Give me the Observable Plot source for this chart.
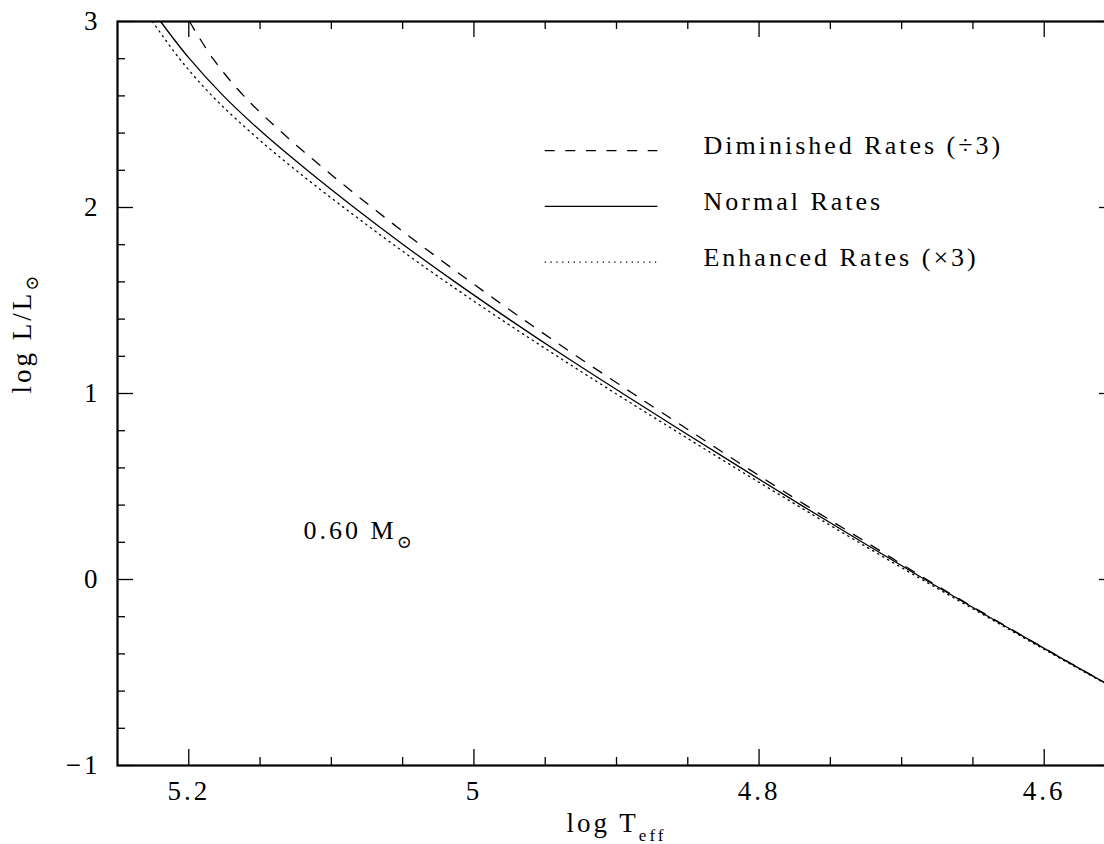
<!DOCTYPE html>
<html><head><meta charset="utf-8">
<script src="https://cdn.jsdelivr.net/npm/d3@7"></script>
<script src="https://cdn.jsdelivr.net/npm/@observablehq/plot@0.6"></script>
<style>
html,body{margin:0;padding:0;overflow:hidden;background:#fff;}
#chart svg text, #chart svg tspan { font-family: "Liberation Serif", "DejaVu Serif", serif !important; }
</style>
</head><body><div id="chart"></div>
<script>
// ---- data: log L/L_sun levels and the log Teff of each track there ----
const lumLevels = [3.0, 2.8, 2.6, 2.4, 2.2, 2.0, 1.8, 1.6, 1.4, 1.2, 1.0, 0.8, 0.6, 0.4, 0.2, 0.0, -0.2, -0.4, -0.58];

const teffNormal     = [5.2198, 5.1995, 5.1757, 5.1479, 5.1169, 5.0840, 5.0495, 5.0133, 4.9755, 4.9363, 4.8957, 4.8544, 4.8127, 4.7705, 4.7275, 4.6837, 4.6389, 4.5933, 4.5517];
const teffDiminished = [5.1995, 5.1830, 5.1614, 5.1342, 5.1038, 5.0714, 5.0376, 5.0023, 4.9657, 4.9278, 4.8885, 4.8487, 4.8085, 4.7673, 4.7247, 4.6824, 4.6383, 4.5930, 4.5517];
const teffEnhanced   = [5.2255, 5.2065, 5.1836, 5.1559, 5.1248, 5.0913, 5.0563, 5.0197, 4.9813, 4.9415, 4.9006, 4.8588, 4.8166, 4.7736, 4.7302, 4.6858, 4.6403, 4.5944, 4.5524];

const seriesLabels = ["Diminished Rates (÷3)", "Normal Rates", "Enhanced Rates (×3)"];
const massLabel = "0.60 M⊙";

const xMajorTicks = [5.2, 5.0, 4.8, 4.6];
const xMinorTicks = [5.15, 5.1, 5.05, 4.95, 4.9, 4.85, 4.75, 4.7, 4.65, 4.55];
const yMajorTicks = [-1, 0, 1, 2, 3];
const yMinorTicks = [-0.8, -0.6, -0.4, -0.2, 0.2, 0.4, 0.6, 0.8, 1.2, 1.4, 1.6, 1.8, 2.2, 2.4, 2.6, 2.8];

// ---- layout constants ----
const W = 1115, H = 844, ML = 117, MR = 0, MT = 21, MB = 79;
const plotW = W - ML - MR, plotH = H - MT - MB;
const majorLen = 16, minorLen = 8;
const legendX1 = 4.95, legendX2 = 4.871, legendTextX = 4.839, legendTopY = 2.306, legendStep = 0.3;
const massX = 5.1195, massY = 0.263;

const zip = (xs, ys) => xs.map((x, i) => ({x, y: ys[i]}));
const dimData = zip(teffDiminished, lumLevels);
const normData = zip(teffNormal, lumLevels);
const enhData = zip(teffEnhanced, lumLevels);

const styles = [
  {strokeDasharray: "10,10.6"},
  {},
  {strokeDasharray: "1.3,4.5"}
];
const legendRows = seriesLabels.map((label, i) => ({label, y: legendTopY - i * legendStep, i}));

const fmtY = d => d < 0 ? "\u2212" + Math.abs(d) : String(d);
const FONT = "'Liberation Serif', 'DejaVu Serif', serif";

const lineOpts = {x: "x", y: "y", stroke: "#000", strokeWidth: 1.3, curve: "catmull-rom", clip: true};

const chart = Plot.plot({
  width: W, height: H, marginLeft: ML, marginRight: MR, marginTop: MT, marginBottom: MB,
  style: {fontFamily: FONT, fontSize: "27px", letterSpacing: "3px", maxWidth: "none", background: "#fff", color: "#000"},
  x: {domain: [5.25, 4.55]},
  y: {domain: [-1, 3]},
  marks: [
    // curves
    Plot.line(dimData, {...lineOpts, ...styles[0]}),
    Plot.line(normData, {...lineOpts, ...styles[1]}),
    Plot.line(enhData, {...lineOpts, ...styles[2]}),
    // ticks (inward, all four sides)
    Plot.tickX(xMajorTicks, {x: d => d, insetTop: plotH - majorLen, stroke: "#000", strokeWidth: 1.3}),
    Plot.tickX(xMajorTicks, {x: d => d, insetBottom: plotH - majorLen, stroke: "#000", strokeWidth: 1.3}),
    Plot.tickX(xMinorTicks, {x: d => d, insetTop: plotH - minorLen, stroke: "#000", strokeWidth: 1.3}),
    Plot.tickX(xMinorTicks, {x: d => d, insetBottom: plotH - minorLen, stroke: "#000", strokeWidth: 1.3}),
    Plot.tickY(yMajorTicks, {y: d => d, insetRight: plotW - majorLen, stroke: "#000", strokeWidth: 1.3}),
    Plot.tickY(yMajorTicks, {y: d => d, insetLeft: plotW - majorLen, stroke: "#000", strokeWidth: 1.3}),
    Plot.tickY(yMinorTicks, {y: d => d, insetRight: plotW - minorLen, stroke: "#000", strokeWidth: 1.3}),
    Plot.tickY(yMinorTicks, {y: d => d, insetLeft: plotW - minorLen, stroke: "#000", strokeWidth: 1.3}),
    Plot.frame({stroke: "#000", strokeWidth: 2.2}),
    // tick labels
    Plot.axisX(xMajorTicks, {tickSize: 0, tickPadding: 15, tickFormat: d => String(d), label: null, fontSize: 27, fontFamily: FONT}),
    Plot.axisY(yMajorTicks, {tickSize: 0, tickPadding: 17, tickFormat: fmtY, label: null, fontSize: 27, fontFamily: FONT}),
    // axis titles
    Plot.text(["log Teff"], {frameAnchor: "bottom", dy: 58, text: d => d, fontSize: 27, fontFamily: FONT, lineAnchor: "middle"}),
    Plot.text(["log L/L⊙"], {frameAnchor: "left", dx: -95, rotate: -90, text: d => d, fontSize: 27, fontFamily: FONT, lineAnchor: "middle"}),
    // mass annotation
    Plot.text([massLabel], {x: () => massX, y: () => massY, text: d => d, textAnchor: "start", fontSize: 26, fontFamily: FONT, lineAnchor: "middle"}),
    // legend
    ...legendRows.map(r => Plot.ruleY([r], {y: "y", x1: () => legendX1, x2: () => legendX2, stroke: "#000", strokeWidth: 1.3, ...styles[r.i]})),
    Plot.text(legendRows, {x: () => legendTextX, y: "y", text: "label", textAnchor: "start", dy: -5, fontSize: 26, fontFamily: FONT, lineAnchor: "middle"})
  ]
});

document.getElementById("chart").appendChild(chart);

// subscripts
function subscript(svg, full, main, sub, shift, size) {
  svg.querySelectorAll("text").forEach(el => {
    if (el.textContent === full) {
      el.textContent = "";
      const ns = "http://www.w3.org/2000/svg";
      const a = document.createElementNS(ns, "tspan");
      a.textContent = main;
      const b = document.createElementNS(ns, "tspan");
      b.textContent = sub;
      b.setAttribute("dy", shift);
      b.setAttribute("font-size", size);
      el.appendChild(a); el.appendChild(b);
    }
  });
}
subscript(chart, "log Teff", "log T", "eff", 9, 17);
subscript(chart, "log L/L⊙", "log L/L", "⊙", 7, 18);
subscript(chart, massLabel, "0.60 M", "⊙", 9, 18);
</script>
</body></html>
